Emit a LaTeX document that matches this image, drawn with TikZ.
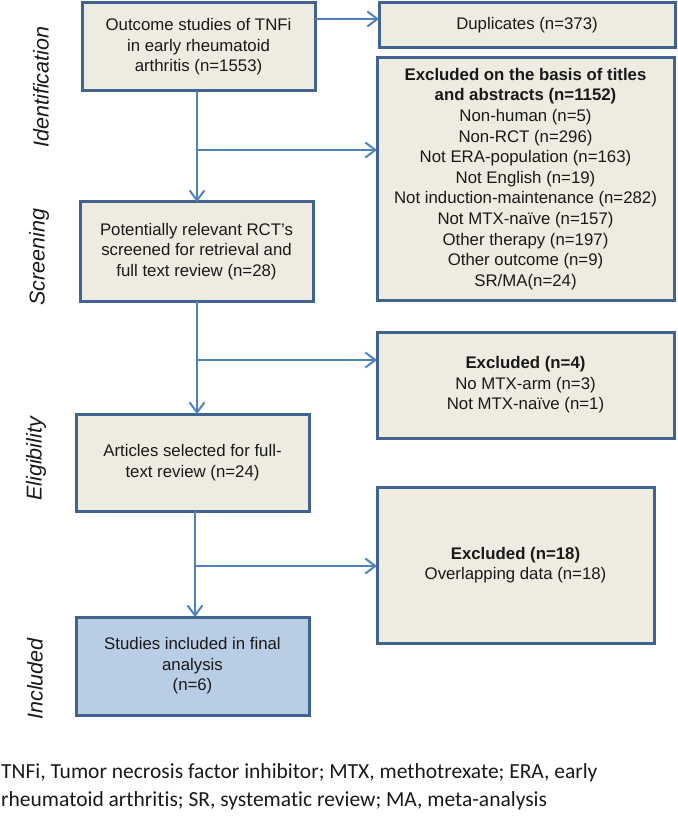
\documentclass[tikz,border=0pt]{standalone}
\usepackage{fontspec}
\setmainfont{Liberation Sans}
\newfontfamily\notefont[Ligatures=NoCommon]{Carlito}
\usetikzlibrary{positioning,calc,arrows.meta}
\definecolor{boxfill}{HTML}{EEECE1}
\definecolor{boxline}{HTML}{41638F}
\definecolor{flowline}{HTML}{4F81BD}
\definecolor{inclfill}{HTML}{B9CDE5}
\begin{document}
\begin{tikzpicture}[x=1pt,y=-1pt,
				stagebox/.style={draw=boxline,fill=boxfill,line width=3pt,rectangle,outer sep=0pt,inner sep=2pt,
					align=center,text=black!90,font=\fontsize{16.8}{20.6}\selectfont},
				phase/.style={rotate=90,font=\fontsize{21.5}{24}\selectfont\itshape,text=black!90},
				flow/.style={draw=flowline,line width=2.5pt,-{Straight Barb[length=10pt,width=15pt,line width=2pt]}}]
				\useasboundingbox (0,0) rectangle (677,818);
				% left column
				\node (outcome)  [stagebox,minimum width=233pt,minimum height=88pt] at (198.5,47)
					{Outcome studies of TNFi\\in early rheumatoid\\arthritis (n=1553)};
				\node (screened) [stagebox,minimum width=233pt,minimum height=99pt] at (196.5,251.5)
					{Potentially relevant RCT's\\screened for retrieval and\\full text review (n=28)};
				\node (articles) [stagebox,minimum width=233pt,minimum height=97pt] at (192.5,462.5)
					{Articles selected for full-\\text review (n=24)};
				\node (included) [stagebox,fill=inclfill,minimum width=233pt,minimum height=98pt] at (192.5,666)
					{Studies included in final\\analysis\\(n=6)};
				% right column
				\node (dupl)  [stagebox,minimum width=296pt,minimum height=45pt] at (527,25.5)
					{Duplicates (n=373)};
				\node (excl1) [stagebox,minimum width=297pt,minimum height=242pt] at (525.5,179)
					{\textbf{Excluded on the basis of titles}\\\textbf{and abstracts (n=1152)}\\Non-human (n=5)\\Non-RCT (n=296)\\
					Not ERA-population (n=163)\\Not English (n=19)\\Not induction-maintenance (n=282)\\
					Not MTX-na\"ive (n=157)\\Other therapy (n=197)\\Other outcome (n=9)\\SR/MA(n=24)};
				\node (excl2) [stagebox,minimum width=297pt,minimum height=106pt] at (525.5,385)
					{\textbf{Excluded (n=4)}\\No MTX-arm (n=3)\\Not MTX-na\"ive (n=1)};
				\node (excl3) [stagebox,minimum width=277pt,minimum height=156pt] at (515.5,565)
					{\textbf{Excluded (n=18)}\\Overlapping data (n=18)};
				% phase labels
				\node (idlab)  [phase] at (41,87)  {Identification};
				\node (scrlab) [phase] at (39,257) {Screening};
				\node (elilab) [phase] at (36,459) {Eligibility};
				\node (inclab) [phase] at (35,679) {Included};
				% branch points
				\coordinate (dupin) at (0,19);
				\coordinate (br1) at (197,150);
				\coordinate (br2) at (197,360);
				\coordinate (br3) at (195,566);
				
				\draw[flow] (outcome.east |- dupin) -- (dupl.west |- dupin);
				\draw[flow] (outcome.south -| br1) -- (screened.north -| br1);
				\draw[flow] (br1) -- (br1 -| excl1.west);
				\draw[flow] (screened.south -| br2) -- (articles.north -| br2);
				\draw[flow] (br2) -- (br2 -| excl2.west);
				\draw[flow] (articles.south -| br3) -- (included.north -| br3);
				\draw[flow] (br3) -- (br3 -| excl3.west);
				% footnote
				\node (note) [anchor=north west,align=left,inner sep=0pt,text=black!90,
					font=\notefont\fontsize{21.5}{28}\selectfont] at (1,763)
					{TNFi, Tumor necrosis factor inhibitor; MTX, methotrexate; ERA, early\\
					rheumatoid arthritis; SR, systematic review; MA, meta-analysis};
			\end{tikzpicture}
\end{document}
